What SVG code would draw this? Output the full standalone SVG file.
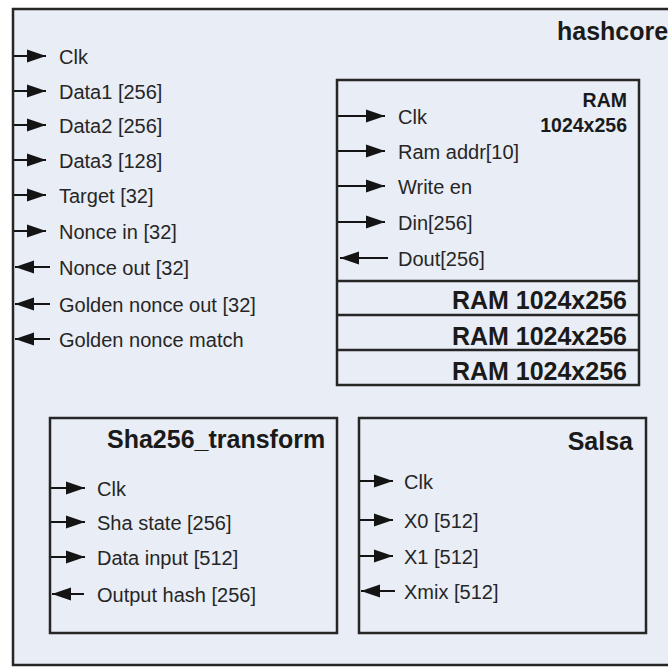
<svg xmlns="http://www.w3.org/2000/svg" width="668" height="667" viewBox="0 0 668 667">
<defs>
<marker id="ah" markerUnits="userSpaceOnUse" markerWidth="24" markerHeight="18" refX="19" refY="8" orient="auto">
<path d="M0,1.5 L19,8 L0,14.5 Z" fill="#141414"/>
</marker>
<style>
.box{fill:#e9edf5;stroke:#262626;stroke-width:2.5}
.sig{stroke:#141414;stroke-width:2;fill:none;marker-end:url(#ah)}
.t{font-family:"Liberation Sans",Arial,sans-serif;font-size:20px;fill:#262626}
.b{font-family:"Liberation Sans",Arial,sans-serif;font-size:25px;font-weight:bold;fill:#1a1a1a}
.bs{font-family:"Liberation Sans",Arial,sans-serif;font-size:19.5px;font-weight:bold;fill:#1a1a1a}
</style>
</defs>
<rect width="668" height="667" fill="#ffffff"/>
<g id="hashcore">
<rect class="box" x="13" y="9" width="680" height="656"/>
<text class="b" x="557" y="40">hashcore</text>
<text class="t" x="59" y="64">Clk</text>
<text class="t" x="59" y="99">Data1 [256]</text>
<text class="t" x="59" y="133">Data2 [256]</text>
<text class="t" x="59" y="168">Data3 [128]</text>
<text class="t" x="59" y="203">Target [32]</text>
<text class="t" x="59" y="239">Nonce in [32]</text>
<text class="t" x="59" y="275">Nonce out [32]</text>
<text class="t" x="59" y="312">Golden nonce out [32]</text>
<text class="t" x="59" y="347">Golden nonce match</text>
</g>
<g id="ram">
<rect class="box" x="337" y="80" width="302" height="305"/>
<line x1="337" y1="281" x2="639" y2="281" stroke="#262626" stroke-width="2.5"/>
<line x1="337" y1="315" x2="639" y2="315" stroke="#262626" stroke-width="2.5"/>
<line x1="337" y1="350" x2="639" y2="350" stroke="#262626" stroke-width="2.5"/>
<text class="bs" x="627" y="107" text-anchor="end">RAM</text>
<text class="bs" x="627" y="132" text-anchor="end">1024x256</text>
<text class="t" x="398" y="124">Clk</text>
<text class="t" x="398" y="159">Ram addr[10]</text>
<text class="t" x="398" y="194">Write en</text>
<text class="t" x="398" y="230">Din[256]</text>
<text class="t" x="398" y="266">Dout[256]</text>
<text class="b" x="627" y="309" text-anchor="end">RAM 1024x256</text>
<text class="b" x="627" y="345" text-anchor="end">RAM 1024x256</text>
<text class="b" x="627" y="380" text-anchor="end">RAM 1024x256</text>
</g>
<g id="sha256_transform">
<rect class="box" x="50" y="418" width="287" height="215"/>
<text class="b" x="107" y="448">Sha256_transform</text>
<text class="t" x="97" y="496">Clk</text>
<text class="t" x="97" y="530">Sha state [256]</text>
<text class="t" x="97" y="565">Data input [512]</text>
<text class="t" x="97" y="602">Output hash [256]</text>
</g>
<g id="salsa">
<rect class="box" x="359" y="418" width="287" height="215"/>
<text class="b" x="633" y="450" text-anchor="end">Salsa</text>
<text class="t" x="404" y="489">Clk</text>
<text class="t" x="404" y="528">X0 [512]</text>
<text class="t" x="404" y="564">X1 [512]</text>
<text class="t" x="404" y="599">Xmix [512]</text>
</g>
<g id="connectors">
<line class="sig" x1="14" y1="56" x2="46" y2="56"/>
<line class="sig" x1="14" y1="91" x2="46" y2="91"/>
<line class="sig" x1="14" y1="125" x2="46" y2="125"/>
<line class="sig" x1="14" y1="160" x2="46" y2="160"/>
<line class="sig" x1="14" y1="195" x2="46" y2="195"/>
<line class="sig" x1="14" y1="231" x2="46" y2="231"/>
<line class="sig" x1="50" y1="267" x2="15" y2="267"/>
<line class="sig" x1="50" y1="304" x2="15" y2="304"/>
<line class="sig" x1="50" y1="339" x2="15" y2="339"/>
<line class="sig" x1="338" y1="116" x2="385" y2="116"/>
<line class="sig" x1="338" y1="151" x2="385" y2="151"/>
<line class="sig" x1="338" y1="186" x2="385" y2="186"/>
<line class="sig" x1="338" y1="222" x2="385" y2="222"/>
<line class="sig" x1="388" y1="258" x2="340" y2="258"/>
<line class="sig" x1="51" y1="488" x2="85" y2="488"/>
<line class="sig" x1="51" y1="522" x2="85" y2="522"/>
<line class="sig" x1="51" y1="557" x2="85" y2="557"/>
<line class="sig" x1="84" y1="594" x2="52" y2="594"/>
<line class="sig" x1="360" y1="481" x2="393" y2="481"/>
<line class="sig" x1="360" y1="520" x2="393" y2="520"/>
<line class="sig" x1="360" y1="556" x2="393" y2="556"/>
<line class="sig" x1="395" y1="591" x2="361" y2="591"/>
</g>
</svg>
